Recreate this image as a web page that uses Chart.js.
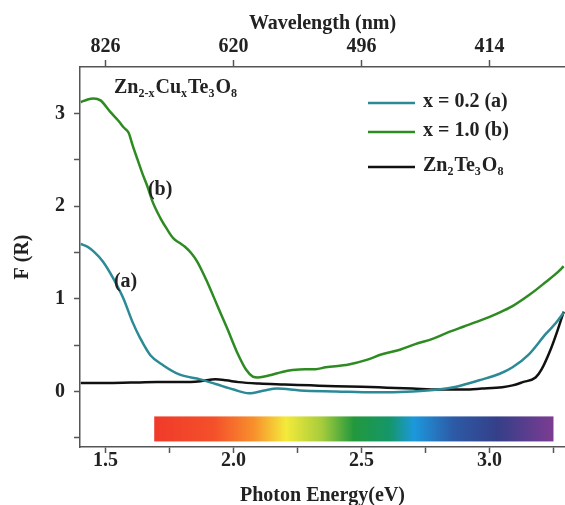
<!DOCTYPE html>
<html>
<head>
<meta charset="utf-8">
<script src="https://cdn.jsdelivr.net/npm/chart.js@4.4.0/dist/chart.umd.min.js"></script>
<style>
  html, body { margin: 0; padding: 0; background: #fff; }
  #wrap { width: 565px; height: 505px; }
</style>
</head>
<body>
<div id="wrap"><canvas id="chart" width="565" height="505"></canvas></div>
<script>
// Photon energy (eV) and F(R) values
const energyB = [1.403, 1.43, 1.453, 1.48, 1.52, 1.55, 1.57, 1.59, 1.605, 1.625, 1.644, 1.665, 1.683, 1.714, 1.74, 1.765, 1.79, 1.81, 1.835, 1.858, 1.897, 1.936, 1.975, 2.014, 2.05, 2.075, 2.095, 2.12, 2.15, 2.19, 2.23, 2.28, 2.32, 2.36, 2.45, 2.52, 2.58, 2.65, 2.71, 2.78, 2.84, 2.9, 2.96, 3.03, 3.09, 3.16, 3.22, 3.26, 3.29];
const valuesB = [3.12, 3.15, 3.16, 3.14, 3.01, 2.92, 2.85, 2.79, 2.66, 2.50, 2.35, 2.20, 2.05, 1.87, 1.75, 1.65, 1.60, 1.56, 1.49, 1.40, 1.18, 0.93, 0.68, 0.42, 0.23, 0.16, 0.15, 0.16, 0.18, 0.21, 0.23, 0.24, 0.24, 0.26, 0.29, 0.34, 0.40, 0.45, 0.51, 0.57, 0.64, 0.70, 0.76, 0.84, 0.92, 1.05, 1.18, 1.27, 1.35];

const energyA = [1.403, 1.43, 1.453, 1.49, 1.53, 1.57, 1.605, 1.636, 1.675, 1.726, 1.79, 1.87, 1.93, 2.0, 2.06, 2.12, 2.17, 2.26, 2.4, 2.55, 2.7, 2.8, 2.87, 2.91, 2.96, 3.04, 3.09, 3.154, 3.22, 3.26, 3.29];
const valuesA = [1.59, 1.56, 1.51, 1.40, 1.22, 1.00, 0.75, 0.57, 0.39, 0.28, 0.18, 0.13, 0.08, 0.02, -0.02, 0.01, 0.03, 0.01, 0.0, -0.01, 0.0, 0.02, 0.05, 0.08, 0.12, 0.19, 0.26, 0.40, 0.62, 0.74, 0.85];

const energyRef = [1.403, 1.5, 1.6, 1.7, 1.8, 1.87, 1.93, 1.97, 2.02, 2.1, 2.2, 2.3, 2.4, 2.5, 2.6, 2.7, 2.8, 2.9, 2.97, 3.05, 3.09, 3.13, 3.18, 3.204, 3.24, 3.265, 3.29];
const valuesRef = [0.09, 0.09, 0.095, 0.10, 0.10, 0.11, 0.13, 0.12, 0.10, 0.085, 0.075, 0.065, 0.055, 0.05, 0.04, 0.03, 0.02, 0.02, 0.03, 0.045, 0.065, 0.10, 0.15, 0.24, 0.46, 0.65, 0.86];

// axis ticks
const bottomTicks = [1.5, 1.75, 2.0, 2.25, 2.5, 2.75, 3.0, 3.25];
const topTickValues = [1.5, 2.0, 2.5, 3.0];
const topTickLabels = ['826', '620', '496', '414'];
const yTicks = [-0.5, 0, 0.5, 1, 1.5, 2, 2.5, 3];

// visible-spectrum strip (eV range, F(R) range)
const spectrumEnergy = [1.69, 3.25];
const spectrumLevel = [-0.27, -0.54];

const serif = '"Liberation Serif", "Times New Roman", serif';
const axisColor = '#555';

function drawRich(ctx, parts, x, y, size) {
  let cx = x;
  parts.forEach(([txt, sub]) => {
    ctx.font = 'bold ' + (sub ? Math.round(size * 0.62) : size) + 'px ' + serif;
    ctx.fillText(txt, cx, sub ? y + size * 0.3 : y);
    cx += ctx.measureText(txt).width + (sub ? 1 : 0);
  });
}

const decorations = {
  id: 'decorations',
  beforeDatasetsDraw(chart) {
    const { ctx, scales } = chart;
    const x0 = scales.x.getPixelForValue(spectrumEnergy[0]);
    const x1 = scales.x.getPixelForValue(spectrumEnergy[1]);
    const y0 = scales.y.getPixelForValue(spectrumLevel[0]);
    const y1 = scales.y.getPixelForValue(spectrumLevel[1]);
    const g = ctx.createLinearGradient(x0, 0, x1, 0);
    g.addColorStop(0, '#f03a2a');
    g.addColorStop(0.15, '#f4502a');
    g.addColorStop(0.25, '#f8902c');
    g.addColorStop(0.33, '#f4ea3a');
    g.addColorStop(0.42, '#a6cc3c');
    g.addColorStop(0.5, '#22983c');
    g.addColorStop(0.59, '#15966a');
    g.addColorStop(0.65, '#1c98dc');
    g.addColorStop(0.75, '#2d5aa6');
    g.addColorStop(0.86, '#353f88');
    g.addColorStop(1, '#7c3c92');
    ctx.save();
    ctx.fillStyle = g;
    ctx.fillRect(x0, y0, x1 - x0, y1 - y0);
    ctx.restore();
  },
  afterDatasetsDraw(chart) {
    const { ctx, scales } = chart;
    ctx.save();
    ctx.fillStyle = '#222';
    ctx.textBaseline = 'middle';
    // compound label
    drawRich(ctx, [['Zn', false], ['2-x', true], ['Cu', false], ['x', true], ['Te', false], ['3', true], ['O', false], ['8', true]], 114, 88, 20);
    // curve labels
    ctx.font = 'bold 20px ' + serif;
    ctx.textAlign = 'center';
    ctx.fillText('(b)', scales.x.getPixelForValue(1.713), scales.y.getPixelForValue(2.18));
    ctx.fillText('(a)', scales.x.getPixelForValue(1.578), scales.y.getPixelForValue(1.18));
    ctx.textAlign = 'left';
    // legend
    const items = [
      { color: '#2b8a96', y: 103, parts: [['x = 0.2 (a)', false]] },
      { color: '#2e8b22', y: 132, parts: [['x = 1.0 (b)', false]] },
      { color: '#111', y: 167, parts: [['Zn', false], ['2', true], ['Te', false], ['3', true], ['O', false], ['8', true]] }
    ];
    items.forEach((it) => {
      ctx.strokeStyle = it.color;
      ctx.lineWidth = 2.5;
      ctx.beginPath();
      ctx.moveTo(368, it.y);
      ctx.lineTo(415, it.y);
      ctx.stroke();
      drawRich(ctx, it.parts, 423, it.y - 1, 20);
    });
    ctx.restore();
  }
};

function pts(xs, ys) {
  return xs.map((x, i) => ({ x: x, y: ys[i] }));
}

const tickFont = { family: serif, size: 20, weight: 'bold' };
const titleFont = { family: serif, size: 20, weight: 'bold' };

new Chart(document.getElementById('chart'), {
  type: 'line',
  data: {
    datasets: [
      { label: 'x = 0.2 (a)', data: pts(energyA, valuesA), borderColor: '#2b8a96', borderWidth: 2.5 },
      { label: 'x = 1.0 (b)', data: pts(energyB, valuesB), borderColor: '#2e8b22', borderWidth: 2.5 },
      { label: 'Zn2Te3O8', data: pts(energyRef, valuesRef), borderColor: '#111', borderWidth: 2.5 }
    ]
  },
  options: {
    responsive: false,
    animation: false,
    layout: { padding: 0 },
    elements: {
      point: { radius: 0 },
      line: { cubicInterpolationMode: 'monotone', fill: false }
    },
    plugins: { legend: { display: false }, tooltip: { enabled: false } },
    scales: {
      x: {
        type: 'linear',
        position: 'bottom',
        min: 1.4,
        max: 3.295,
        afterBuildTicks: (s) => { s.ticks = bottomTicks.map((v) => ({ value: v })); },
        afterFit: (s) => { s.height = 58; },
        ticks: {
          font: tickFont,
          color: '#222',
          maxRotation: 0,
          autoSkip: false,
          padding: -4,
          callback: (v) => (Math.abs(v * 2 - Math.round(v * 2)) < 1e-6 ? v.toFixed(1) : '')
        },
        grid: { drawOnChartArea: false, drawTicks: true, tickLength: 6, tickColor: axisColor, tickWidth: 1.5 },
        border: { color: axisColor, width: 1.5 },
        title: { display: true, text: 'Photon Energy(eV)', font: titleFont, color: '#222', padding: { top: 0, bottom: -3 } }
      },
      x2: {
        type: 'linear',
        position: 'top',
        min: 1.4,
        max: 3.295,
        afterBuildTicks: (s) => { s.ticks = topTickValues.map((v) => ({ value: v })); },
        afterFit: (s) => { s.height = 67; },
        ticks: {
          font: tickFont,
          color: '#222',
          maxRotation: 0,
          autoSkip: false,
          padding: 1,
          callback: (v, i) => topTickLabels[i]
        },
        grid: { drawOnChartArea: false, drawTicks: true, tickLength: 7, tickColor: axisColor, tickWidth: 1.5 },
        border: { color: axisColor, width: 1.5 },
        title: { display: true, text: 'Wavelength (nm)', font: titleFont, color: '#222', padding: { top: 12, bottom: 0 } }
      },
      y: {
        type: 'linear',
        position: 'left',
        min: -0.6,
        max: 3.5,
        afterBuildTicks: (s) => { s.ticks = yTicks.map((v) => ({ value: v })); },
        afterFit: (s) => { s.width = 80; },
        ticks: {
          font: tickFont,
          color: '#222',
          padding: 9,
          callback: (v) => (Number.isInteger(v) ? String(v) : '')
        },
        grid: { drawOnChartArea: false, drawTicks: true, tickLength: 6, tickColor: axisColor, tickWidth: 1.5 },
        border: { color: axisColor, width: 1.5 },
        title: { display: true, text: 'F (R)', font: titleFont, color: '#222', padding: { top: 11, bottom: 0 } }
      }
    }
  },
  plugins: [decorations]
});
</script>
</body>
</html>
